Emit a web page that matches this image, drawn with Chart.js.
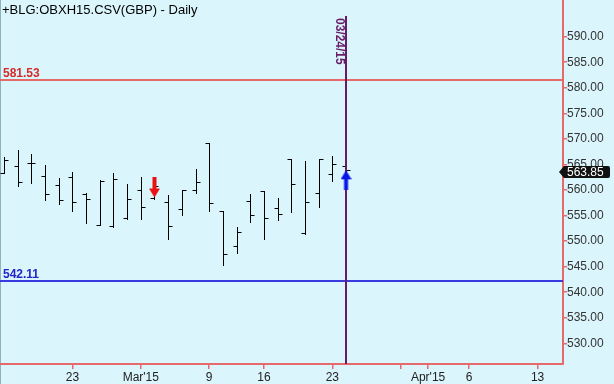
<!DOCTYPE html>
<html>
<head>
<meta charset="utf-8">
<script src="https://cdn.jsdelivr.net/npm/chart.js@4.4.0/dist/chart.umd.min.js"></script>
<style>
html, body { margin: 0; padding: 0; background: #daf5fb; }
canvas { display: block; }
</style>
</head>
<body>
<canvas id="chart" width="614" height="384"></canvas>
<script>
// trading sessions on the axis (past bars + projected days)
const sessions = ['02/16','02/17','02/18','02/19','02/20','02/23','02/24','02/25','02/26','02/27',
    '03/02','03/03','03/04','03/05','03/06','03/09','03/10','03/11','03/12','03/16',
    '03/17','03/18','03/19','03/20','03/23','03/24','03/25','03/26','03/27','03/30',
    '03/31','04/01','04/02','04/03','04/06','04/07','04/08','04/09','04/10','04/13','04/14'];

const open  = [563.4,564.7,565.2,562.7,560.9,562.6,559.2,553.2,552.9,554.5,560.0,558.4,557.6,
               556.3,560.0,569.1,555.8,549.0,557.9,559.8,556.4,566.1,551.5,559.4,563.1,564.6];
const high  = [566.4,567.8,567.0,564.9,562.3,563.6,559.4,562.0,563.3,561.1,562.5,561.4,559.0,
               560.0,564.1,569.1,555.9,552.8,559.2,559.8,558.4,566.1,565.7,566.1,566.7,565.3];
const low   = [563.4,560.8,561.4,558.0,557.3,555.8,553.6,553.2,552.8,554.3,554.3,558.2,550.5,
               555.2,559.5,555.8,545.3,547.7,553.8,550.5,554.1,555.6,551.4,556.6,561.8,562.9];
const close = [565.9,561.6,565.2,559.2,558.0,557.7,558.2,561.8,562.2,558.2,556.6,560.8,553.0,
               560.0,561.6,557.4,547.4,551.8,555.1,554.5,555.4,561.1,557.6,566.1,565.1,563.85];

const tickDays = ['02/23','03/02','03/09','03/16','03/23','03/30','04/01','04/06','04/13'];
const tickText = ['23',"Mar'15",'9','16','23','',"Apr'15",'6','13'];
const priceTicks = [530,535,540,545,550,555,560,565,570,575,580,585,590];

const levels = [581.53, 542.11];
const levelColors = ['#e66a6a', '#3a3ae0'];
const levelTextColors = ['#d42a2a', '#2424c8'];

const sellDays = ['03/03'];
const sellPrices = [560.5];
const buyDays = ['03/24'];
const buyPrices = [561.9];

const markerDay = '03/24';
const markerText = '03/24/15';

const FONT = '"Liberation Sans", Arial, sans-serif';
const AXIS = '#e66a6a';
const idx = d => sessions.indexOf(d);

function arrowImg(color, up) {
    const c = document.createElement('canvas');
    c.width = 11; c.height = 20;
    const g = c.getContext('2d');
    g.fillStyle = color;
    g.beginPath();
    if (up) {
        g.moveTo(5.5, 0); g.lineTo(11, 9); g.lineTo(7.5, 9); g.lineTo(7.5, 20);
        g.lineTo(3.5, 20); g.lineTo(3.5, 9); g.lineTo(0, 9);
    } else {
        g.moveTo(5.5, 20); g.lineTo(11, 11); g.lineTo(7.5, 11); g.lineTo(7.5, 0);
        g.lineTo(3.5, 0); g.lineTo(3.5, 11); g.lineTo(0, 11);
    }
    g.closePath();
    g.fill();
    return c;
}

function noPad(s) {
    s.paddingLeft = 0; s.paddingRight = 0; s.paddingTop = 0; s.paddingBottom = 0;
}

// background + left border
const background = {
    id: 'background',
    beforeDraw(chart) {
        const c = chart.ctx;
        c.save();
        c.fillStyle = '#daf5fb';
        c.fillRect(0, 0, chart.width, chart.height);
        c.strokeStyle = '#8fb3bb';
        c.beginPath(); c.moveTo(0.5, 0); c.lineTo(0.5, chart.height); c.stroke();
        c.restore();
    }
};

// OHLC bars, level lines and the date marker
const ohlc = {
    id: 'ohlc',
    beforeDatasetsDraw(chart) {
        const { ctx, chartArea, scales: { x, y } } = chart;
        ctx.save();
        ctx.beginPath();
        ctx.rect(chartArea.left, chartArea.top, chartArea.right - chartArea.left, chartArea.bottom - chartArea.top);
        ctx.clip();

        levels.forEach((v, i) => {
            const py = Math.round(y.getPixelForValue(v));
            ctx.strokeStyle = levelColors[i];
            ctx.lineWidth = 2;
            ctx.beginPath(); ctx.moveTo(chartArea.left, py); ctx.lineTo(chartArea.right, py); ctx.stroke();
        });

        ctx.strokeStyle = '#000';
        ctx.lineWidth = 1;
        ctx.beginPath();
        for (let i = 0; i < close.length; i++) {
            const px = Math.round(x.getPixelForValue(i)) + 0.5;
            const yh = Math.round(y.getPixelForValue(high[i]));
            const yl = Math.round(y.getPixelForValue(low[i]));
            const yo = Math.round(y.getPixelForValue(open[i])) + 0.5;
            const yc = Math.round(y.getPixelForValue(close[i])) + 0.5;
            ctx.moveTo(px, yh); ctx.lineTo(px, yl + 1);
            ctx.moveTo(px - 4, yo); ctx.lineTo(px, yo);
            ctx.moveTo(px, yc); ctx.lineTo(px + 4, yc);
        }
        ctx.stroke();

        const mx = Math.round(x.getPixelForValue(idx(markerDay)));
        ctx.strokeStyle = '#661c66';
        ctx.lineWidth = 2;
        ctx.beginPath(); ctx.moveTo(mx, 16); ctx.lineTo(mx, chartArea.bottom); ctx.stroke();
        ctx.restore();
    },
    afterDraw(chart) {
        const { ctx, chartArea, scales: { x, y } } = chart;
        ctx.save();
        // title
        ctx.fillStyle = '#000';
        ctx.font = '13px ' + FONT;
        ctx.textBaseline = 'middle';
        ctx.textAlign = 'left';
        ctx.fillText('+BLG:OBXH15.CSV(GBP) - Daily', 2, 10);

        // level labels
        ctx.font = 'bold 12px ' + FONT;
        ctx.textBaseline = 'alphabetic';
        levels.forEach((v, i) => {
            ctx.fillStyle = levelTextColors[i];
            ctx.fillText(v.toFixed(2), 3, Math.round(y.getPixelForValue(v)) - 3);
        });

        // date marker text
        const mx = Math.round(x.getPixelForValue(idx(markerDay)));
        ctx.save();
        ctx.translate(mx - 7, 18);
        ctx.rotate(Math.PI / 2);
        ctx.fillStyle = '#661c66';
        ctx.font = 'bold 12px ' + FONT;
        ctx.textBaseline = 'middle';
        ctx.fillText(markerText, 0, 0);
        ctx.restore();

        // last price box
        const last = close[close.length - 1];
        const py = Math.round(y.getPixelForValue(last)) + 2;
        const bx = chartArea.right;
        ctx.fillStyle = '#111';
        ctx.beginPath();
        ctx.moveTo(bx - 4, py);
        ctx.lineTo(bx + 1, py - 6);
        ctx.lineTo(bx + 45, py - 6);
        ctx.quadraticCurveTo(bx + 47, py - 6, bx + 47, py - 4);
        ctx.lineTo(bx + 47, py + 4);
        ctx.quadraticCurveTo(bx + 47, py + 6, bx + 45, py + 6);
        ctx.lineTo(bx + 1, py + 6);
        ctx.closePath();
        ctx.fill();
        ctx.fillStyle = '#fff';
        ctx.font = '12px ' + FONT;
        ctx.textAlign = 'left';
        ctx.textBaseline = 'middle';
        ctx.fillText(last.toFixed(2), bx + 4, py + 1);
        ctx.restore();
    }
};

const chart = new Chart(document.getElementById('chart'), {
    type: 'scatter',
    data: {
        datasets: [{
            label: 'Sell',
            data: sellDays.map((d, i) => ({ x: idx(d), y: sellPrices[i] })),
            pointStyle: arrowImg('#e81212', false),
            pointRadius: 10
        }, {
            label: 'Buy',
            data: buyDays.map((d, i) => ({ x: idx(d), y: buyPrices[i] })),
            pointStyle: arrowImg('#0a16e8', true),
            pointRadius: 10
        }]
    },
    options: {
        responsive: false,
        animation: false,
        devicePixelRatio: 1,
        layout: { padding: 0, autoPadding: false },
        plugins: { legend: { display: false }, tooltip: { enabled: false } },
        scales: {
            x: {
                type: 'linear',
                min: -0.29,
                max: 40.86,
                afterBuildTicks: s => { s.ticks = tickDays.map(d => ({ value: idx(d) })); },
                afterFit: s => { s.height = 20; noPad(s); },
                grid: { drawOnChartArea: false, tickLength: 5, color: AXIS, lineWidth: 1.5 },
                border: { color: AXIS, width: 2 },
                ticks: {
                    autoSkip: false,
                    maxRotation: 0,
                    padding: 1,
                    color: '#222',
                    font: { family: FONT, size: 12 },
                    callback: (v, i) => tickText[i]
                }
            },
            y: {
                position: 'right',
                min: 525.95,
                max: 597.18,
                afterBuildTicks: s => { s.ticks = priceTicks.map(v => ({ value: v })); },
                afterFit: s => { s.width = 51; noPad(s); },
                grid: { drawOnChartArea: false, tickLength: 4, color: AXIS, lineWidth: 1.5 },
                border: { color: AXIS, width: 2 },
                ticks: {
                    padding: 0,
                    color: '#333',
                    font: { family: FONT, size: 12 },
                    callback: v => v.toFixed(2)
                }
            }
        }
    },
    plugins: [background, ohlc]
});
</script>
</body>
</html>
